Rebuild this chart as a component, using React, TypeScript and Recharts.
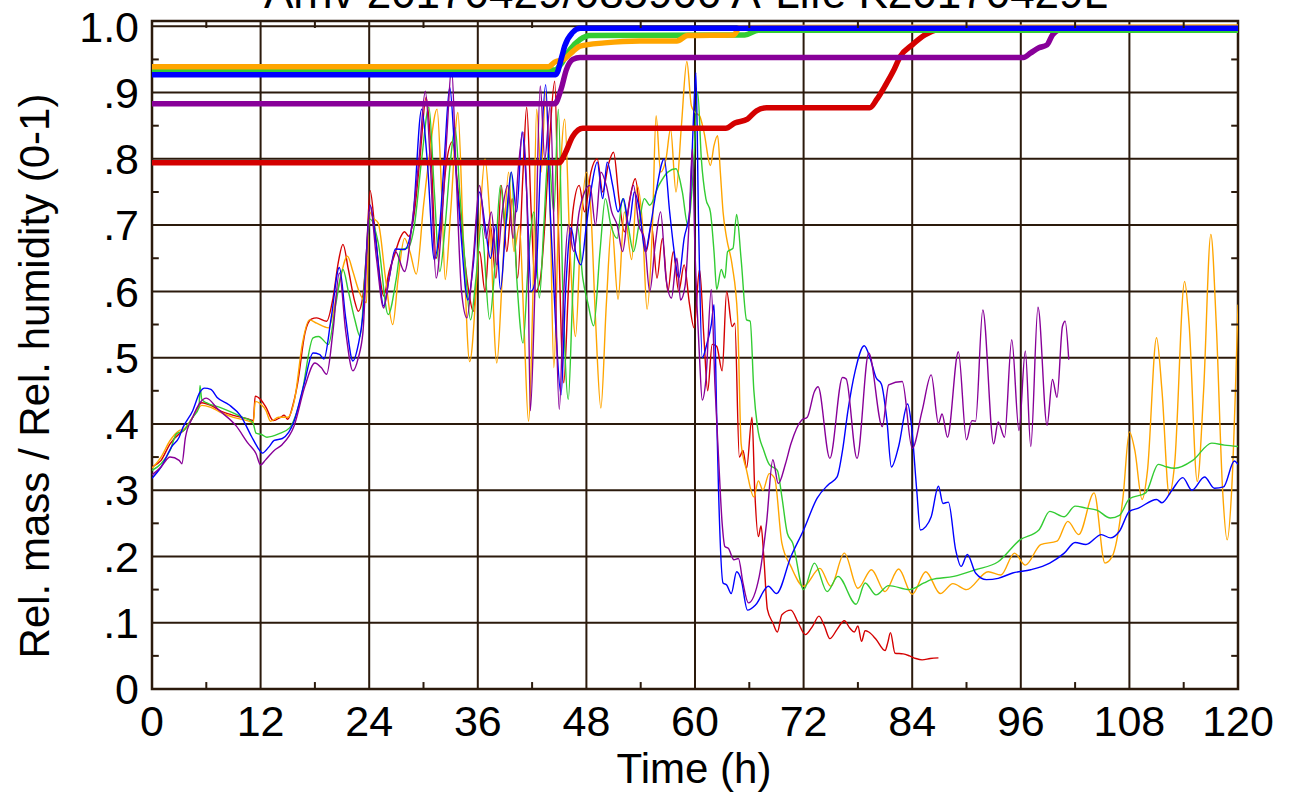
import React from 'react';
import { LineChart, Line, XAxis, YAxis, CartesianGrid, ReferenceLine, ReferenceArea } from 'recharts';

const TITLE = 'Arnv 20170429/085900 A-Life K20170429L';
const X_LABEL = 'Time (h)';
const Y_LABEL = 'Rel. mass / Rel. humidity (0-1)';

const xTicks = [0, 12, 24, 36, 48, 60, 72, 84, 96, 108, 120];
const yTicks = [0, 0.1, 0.2, 0.3, 0.4, 0.5, 0.6, 0.7, 0.8, 0.9, 1.0];
const xMinor = [6, 18, 30, 42, 54, 66, 78, 90, 102, 114];
const yMinor = [0.05, 0.15, 0.25, 0.35, 0.45, 0.55, 0.65, 0.75, 0.85, 0.95];

// Relative mass (thick lines): [time h, value]
const redMass = [[0,0.794],[45,0.794],[45.6,0.807],[46.5,0.834],[47.6,0.846],[63.4,0.846],[64.4,0.854],[65.8,0.86],[66.8,0.8725],[67.9,0.877],[79.3,0.877],[80.1,0.89],[81,0.91],[81.9,0.932],[82.7,0.955],[84,0.972],[85.4,0.987],[86.7,0.995],[88,0.998],[120,0.998]];
const orangeMass = [[0,0.939],[43.8,0.939],[44.5,0.946],[45.5,0.95],[46.5,0.962],[47.3,0.97],[50,0.975],[53.9,0.978],[58,0.978],[59.2,0.986],[64.3,0.987],[64.9,0.998],[120,0.999]];
const greenMass = [[0,0.934],[44.5,0.934],[45.3,0.945],[46.2,0.965],[47.3,0.98],[48.4,0.986],[65.5,0.987],[67,0.994],[120,0.994]];
const blueMass = [[0,0.927],[44.6,0.927],[45.3,0.955],[45.6,0.97],[46.5,0.991],[47.3,0.997],[120,0.997]];
const purpleMass = [[0,0.883],[44.5,0.883],[45.2,0.905],[45.8,0.935],[46.5,0.95],[47.3,0.953],[96.3,0.953],[97.1,0.96],[98,0.9675],[98.9,0.972],[99.5,0.987],[100.2,0.995],[101.3,0.998],[120,0.998]];

// Relative humidity (thin lines): [time h, value]
const redHum = [[0,0.335],[1,0.345],[2,0.37],[3,0.385],[3.5,0.39],[4.5,0.41],[5.5,0.432],[6.5,0.428],[7.5,0.42],[9,0.413],[10.5,0.408],[11.2,0.405],[11.4,0.442],[12,0.437],[12.6,0.425],[13.4,0.405],[14.2,0.41],[14.6,0.413],[15,0.407],[15.6,0.43],[16.1,0.462],[16.9,0.537],[17.6,0.558],[18.2,0.56],[19.3,0.555],[20,0.59],[20.6,0.645],[21.1,0.671],[21.7,0.633],[22.4,0.585],[22.8,0.57],[23.3,0.593],[23.7,0.66],[24.1,0.752],[24.6,0.698],[25.2,0.62],[25.6,0.593],[26.2,0.63],[26.8,0.655],[27.4,0.68],[27.9,0.69],[28.4,0.683],[29,0.72],[29.6,0.8],[30.3,0.893],[30.8,0.82],[31.4,0.65],[31.9,0.7],[32.5,0.79],[33.2,0.826],[33.7,0.77],[34.3,0.68],[35,0.6],[35.5,0.57],[36.2,0.66],[36.8,0.6],[37.4,0.7],[38,0.62],[38.6,0.76],[39.2,0.66],[39.8,0.74],[40.4,0.62],[41,0.78],[41.4,0.878],[41.9,0.72],[42.4,0.6],[42.9,0.618],[43.4,0.7],[43.9,0.82],[44.5,0.917],[44.9,0.7],[45.5,0.462],[46,0.6],[46.5,0.72],[47.2,0.76],[47.8,0.72],[48.5,0.78],[49.2,0.8],[49.8,0.75],[50.4,0.79],[51,0.81],[51.6,0.74],[52.2,0.69],[52.8,0.74],[53.4,0.77],[54,0.71],[54.6,0.66],[55.2,0.7],[55.8,0.62],[56.4,0.68],[57,0.6],[57.6,0.66],[58.2,0.6],[58.8,0.64],[59.4,0.58],[59.9,0.545],[60.5,0.633],[61,0.527],[61.4,0.45],[61.9,0.52],[62.4,0.517],[63,0.48],[63.5,0.6],[64.1,0.547],[64.4,0.552],[64.9,0.35],[65.3,0.36],[65.7,0.333],[66.3,0.41],[66.6,0.3],[67,0.23],[67.3,0.246],[67.6,0.2],[68,0.12],[68.6,0.1],[69.1,0.086],[69.6,0.112],[70.6,0.119],[71.4,0.1],[72.2,0.082],[73,0.095],[73.7,0.11],[74.3,0.095],[74.9,0.076],[75.7,0.09],[76.5,0.103],[77.1,0.092],[77.6,0.086],[78,0.095],[78.4,0.072],[78.8,0.088],[79.2,0.086],[80,0.075],[81,0.058],[81.3,0.07],[81.6,0.085],[82.1,0.054],[83,0.053],[83.7,0.05],[84.4,0.046],[85.1,0.044],[86,0.046],[86.9,0.047]];
const orangeHum = [[0,0.333],[1,0.35],[2,0.375],[3,0.39],[3.5,0.392],[4.5,0.41],[5.5,0.428],[6.5,0.425],[7.5,0.418],[9,0.41],[10.5,0.405],[11.2,0.402],[11.4,0.434],[12,0.43],[12.6,0.42],[13.1,0.404],[14,0.41],[15,0.41],[15.8,0.44],[16.6,0.52],[17.4,0.557],[18.2,0.552],[19.5,0.545],[20.5,0.6],[21.6,0.653],[22.2,0.63],[22.8,0.603],[23.7,0.583],[24,0.72],[24.5,0.71],[25,0.703],[25.8,0.62],[26.6,0.55],[27.2,0.62],[27.9,0.68],[28.5,0.66],[29.2,0.626],[30,0.729],[30.6,0.8],[31.5,0.875],[32,0.75],[32.4,0.618],[33,0.72],[33.8,0.87],[34.4,0.68],[35.1,0.494],[35.8,0.6],[36.2,0.7],[36.8,0.8],[37.3,0.72],[38.1,0.492],[38.7,0.62],[39.4,0.78],[40,0.66],[40.6,0.7],[41.1,0.55],[41.6,0.404],[42.1,0.6],[42.5,0.875],[43,0.78],[43.5,0.9],[44,0.72],[44.4,0.485],[44.9,0.7],[45.6,0.86],[46.2,0.66],[46.8,0.532],[47.4,0.7],[48,0.78],[48.5,0.72],[49,0.56],[49.6,0.424],[50.2,0.58],[50.8,0.7],[51.5,0.588],[52.2,0.72],[53,0.648],[53.6,0.76],[54.2,0.7],[54.7,0.573],[55.3,0.7],[55.7,0.865],[56.2,0.78],[56.8,0.8],[57.3,0.845],[57.9,0.75],[58.5,0.85],[59.1,0.947],[59.6,0.88],[60,0.87],[60.5,0.865],[61,0.84],[61.7,0.79],[62.1,0.82],[62.5,0.835],[62.8,0.78],[63.1,0.72],[63.5,0.68],[64.1,0.64],[64.7,0.562],[65.1,0.37],[65.7,0.33],[66.5,0.29],[67,0.314],[67.5,0.3],[68.2,0.325],[68.8,0.318],[69.6,0.22],[70.6,0.185],[72,0.155],[73.8,0.182],[75,0.155],[76.5,0.205],[78,0.152],[79.5,0.18],[81,0.147],[82.5,0.181],[84,0.143],[85.5,0.177],[87.1,0.144],[88.5,0.159],[90,0.15],[92.4,0.177],[93.8,0.172],[95.3,0.205],[96.5,0.187],[98.2,0.218],[100,0.223],[101.2,0.253],[102.4,0.233],[104.1,0.296],[105.3,0.19],[106.1,0.2],[107.3,0.29],[108,0.388],[108.6,0.36],[109.4,0.286],[110,0.33],[111,0.53],[111.6,0.45],[112.4,0.293],[113,0.34],[114.1,0.615],[114.6,0.55],[115.5,0.313],[116.2,0.45],[117,0.686],[117.6,0.55],[118.3,0.3],[118.8,0.225],[119.3,0.3],[120,0.58]];
const greenHum = [[0,0.33],[1,0.34],[2,0.36],[2.7,0.385],[3.5,0.39],[4.5,0.41],[5.2,0.425],[5.3,0.458],[5.5,0.437],[6,0.432],[7.5,0.425],[8.9,0.417],[10,0.41],[11,0.404],[11.2,0.4],[11.5,0.386],[12.1,0.384],[12.7,0.38],[14,0.385],[15.2,0.394],[16.5,0.442],[17.8,0.53],[18.4,0.532],[19.5,0.52],[20.3,0.58],[21.1,0.633],[21.7,0.6],[22.4,0.558],[23,0.532],[23.6,0.638],[24.1,0.709],[25,0.673],[26.1,0.565],[27,0.62],[27.5,0.663],[28.3,0.666],[29,0.7],[29.8,0.8],[30.6,0.878],[31.2,0.75],[31.8,0.63],[32.4,0.7],[33,0.8],[33.5,0.847],[34,0.75],[34.6,0.64],[35.2,0.557],[35.8,0.62],[36.4,0.7],[37.3,0.558],[37.9,0.64],[38.5,0.76],[39.1,0.7],[39.7,0.78],[40.3,0.62],[41,0.522],[41.6,0.65],[42.2,0.72],[42.8,0.59],[43.3,0.7],[43.8,0.81],[44.4,0.72],[44.9,0.875],[45.4,0.6],[46,0.437],[46.5,0.6],[47,0.7],[47.6,0.62],[48.2,0.58],[48.8,0.548],[49.5,0.66],[50.1,0.74],[50.7,0.7],[51.4,0.68],[52,0.74],[52.6,0.7],[53.2,0.66],[53.8,0.7],[54.4,0.74],[55,0.73],[56,0.76],[57,0.78],[57.9,0.785],[58.6,0.75],[59.2,0.7],[59.8,0.78],[60.3,0.9],[60.7,0.8],[61.2,0.74],[61.7,0.72],[62.1,0.66],[62.4,0.603],[62.9,0.633],[63.3,0.62],[63.6,0.66],[64.2,0.665],[64.6,0.716],[65.1,0.648],[65.7,0.557],[66.1,0.555],[66.5,0.451],[66.9,0.396],[67.6,0.36],[68.2,0.339],[69.1,0.33],[69.6,0.29],[70.2,0.235],[70.8,0.22],[72,0.15],[73.2,0.19],[74.6,0.147],[75.8,0.17],[77.8,0.128],[78.8,0.16],[80,0.142],[81.4,0.156],[83.7,0.15],[85.3,0.16],[86.1,0.165],[88.6,0.17],[91,0.18],[93.5,0.192],[95.9,0.225],[98,0.24],[99.2,0.268],[100.8,0.26],[102,0.276],[103.2,0.273],[104.4,0.27],[105.9,0.258],[106.9,0.262],[108,0.287],[109.8,0.296],[111.2,0.339],[111.9,0.336],[113,0.333],[115,0.345],[117.1,0.371],[118.5,0.368],[120,0.366]];
const blueHum = [[0,0.318],[1,0.335],[2.2,0.366],[3,0.38],[3.4,0.394],[4.5,0.42],[5.3,0.448],[5.8,0.454],[6.5,0.452],[7.2,0.44],[8.5,0.429],[9.8,0.412],[11,0.381],[11.7,0.364],[12.2,0.356],[12.9,0.365],[13.5,0.375],[14.4,0.378],[15.7,0.404],[16.8,0.46],[17.8,0.507],[18.5,0.505],[19,0.498],[19.8,0.56],[20.7,0.636],[21.4,0.56],[22.2,0.495],[22.8,0.52],[23.3,0.563],[24.1,0.73],[24.7,0.68],[25.6,0.578],[26.2,0.62],[26.9,0.664],[27.9,0.663],[28.8,0.706],[29.8,0.875],[30.4,0.8],[31.2,0.648],[31.8,0.7],[32.3,0.8],[32.9,0.908],[33.5,0.8],[34.1,0.693],[34.9,0.587],[35.5,0.64],[36.2,0.75],[36.8,0.7],[37.4,0.65],[38,0.7],[38.5,0.603],[39.1,0.7],[39.7,0.78],[40.3,0.72],[40.9,0.841],[41.4,0.75],[41.9,0.6],[42.4,0.62],[42.9,0.78],[43.5,0.912],[44,0.72],[44.6,0.55],[45.2,0.444],[45.7,0.6],[46.3,0.696],[46.8,0.66],[47.4,0.64],[48,0.7],[48.6,0.76],[49.2,0.795],[49.8,0.74],[50.3,0.795],[50.9,0.76],[51.5,0.72],[52.1,0.74],[52.7,0.7],[53.3,0.75],[53.9,0.72],[54.5,0.66],[55.1,0.7],[55.7,0.75],[56.6,0.8],[57.2,0.72],[57.7,0.66],[58.2,0.62],[58.8,0.68],[59.4,0.72],[59.8,0.85],[60.1,0.93],[60.4,0.7],[60.8,0.5],[61.3,0.52],[61.8,0.55],[62.1,0.58],[62.4,0.411],[62.6,0.3],[63.1,0.16],[63.5,0.157],[64,0.144],[64.6,0.177],[65.1,0.165],[65.8,0.119],[66.7,0.127],[68.1,0.155],[69,0.144],[70.6,0.2],[72,0.24],[73.5,0.288],[74.7,0.308],[75.7,0.32],[76.3,0.36],[76.9,0.42],[77.7,0.48],[78.7,0.518],[79.4,0.497],[80,0.47],[80.6,0.46],[81.2,0.406],[81.7,0.335],[82.5,0.366],[83.5,0.43],[83.9,0.4],[84.5,0.3],[84.9,0.24],[85.5,0.245],[86.1,0.26],[86.9,0.306],[87.4,0.28],[88,0.282],[88.8,0.21],[89.4,0.185],[90.1,0.203],[91,0.175],[92.2,0.165],[93.5,0.167],[95.1,0.175],[97.1,0.18],[99.2,0.19],[100.8,0.205],[102,0.221],[103.2,0.218],[104.9,0.233],[105.9,0.228],[106.9,0.238],[108,0.268],[109,0.273],[111,0.286],[111.6,0.281],[112.7,0.3],[113.9,0.319],[114.9,0.3],[116.3,0.32],[117.4,0.303],[118.4,0.305],[119.6,0.344],[120,0.339]];
const purpleHum = [[0,0.323],[1,0.335],[2,0.35],[3,0.345],[3.3,0.34],[3.7,0.38],[4.5,0.41],[5.3,0.432],[6,0.439],[7.3,0.422],[9.3,0.397],[10.6,0.371],[11.5,0.355],[12,0.338],[12.5,0.345],[13.5,0.36],[14.4,0.369],[15.7,0.397],[16.9,0.457],[18,0.492],[18.7,0.485],[19.3,0.475],[20,0.54],[20.7,0.628],[21.4,0.54],[22.2,0.48],[22.8,0.5],[23.3,0.537],[24.1,0.73],[24.8,0.65],[25.6,0.575],[26.2,0.62],[26.9,0.66],[27.9,0.63],[28.8,0.71],[29.5,0.8],[30.2,0.902],[30.8,0.78],[31.4,0.62],[32,0.7],[32.6,0.84],[33.1,0.938],[33.6,0.78],[34.2,0.6],[34.8,0.56],[35.5,0.65],[36.2,0.76],[36.9,0.68],[37.5,0.72],[38.1,0.64],[38.7,0.72],[39.3,0.76],[39.9,0.68],[40.5,0.79],[41,0.84],[41.5,0.7],[41.8,0.42],[42.3,0.598],[42.9,0.91],[43.4,0.8],[44,0.88],[44.5,0.65],[45,0.422],[45.5,0.6],[46,0.7],[46.6,0.66],[47.2,0.72],[47.8,0.75],[48.4,0.76],[49,0.7],[49.6,0.78],[50.2,0.76],[50.8,0.72],[51.4,0.7],[52,0.66],[52.6,0.72],[53.2,0.76],[53.8,0.7],[54.4,0.68],[55,0.6],[55.6,0.67],[56.2,0.72],[56.8,0.62],[57.4,0.59],[58,0.65],[58.4,0.587],[58.9,0.608],[59.4,0.72],[59.7,0.815],[60,0.66],[60.5,0.5],[60.8,0.436],[61.2,0.466],[61.8,0.603],[62.2,0.46],[62.6,0.35],[63,0.25],[63.3,0.215],[63.7,0.212],[64.3,0.195],[64.8,0.197],[65.3,0.16],[65.9,0.13],[67.1,0.17],[67.9,0.25],[68.6,0.346],[69.2,0.31],[70,0.34],[70.6,0.37],[71.8,0.406],[72.4,0.41],[73.2,0.449],[73.6,0.456],[74.9,0.348],[76.3,0.47],[76.7,0.468],[77.9,0.348],[79.2,0.507],[80.7,0.396],[81.4,0.459],[82.9,0.464],[84,0.363],[85.1,0.42],[86.1,0.474],[86.9,0.401],[87.3,0.415],[87.9,0.38],[89.1,0.509],[90,0.376],[90.6,0.405],[91,0.404],[91.8,0.572],[93,0.37],[93.5,0.403],[94.2,0.38],[95,0.527],[95.8,0.39],[96.5,0.51],[97.1,0.366],[97.9,0.576],[98.9,0.398],[99.5,0.467],[100,0.44],[100.6,0.547],[100.9,0.555],[101.3,0.497]];

const RED = '#d40000';
const ORANGE = '#ffa500';
const GREEN = '#33cc33';
const BLUE = '#0000ff';
const PURPLE = '#880099';
const GRID = '#2b1a0c';
const FONT = '"Liberation Sans", Arial, Helvetica, sans-serif';

const pts = (arr: number[][]) => arr.map(([t, v]) => ({ t, v }));

const thin = [
  { key: 'rh', data: redHum, color: RED },
  { key: 'oh', data: orangeHum, color: ORANGE },
  { key: 'gh', data: greenHum, color: GREEN },
  { key: 'bh', data: blueHum, color: BLUE },
  { key: 'ph', data: purpleHum, color: PURPLE },
];
const thick = [
  { key: 'rm', data: redMass, color: RED },
  { key: 'pm', data: purpleMass, color: PURPLE },
  { key: 'gm', data: greenMass, color: GREEN },
  { key: 'om', data: orangeMass, color: ORANGE },
  { key: 'bm', data: blueMass, color: BLUE },
];

const yFmt = (v: number) => (v === 0 ? '0' : v >= 0.999 ? '1.0' : '.' + Math.round(v * 10));

export default function App() {
  return (
    <div style={{ position: 'absolute', left: 0, top: 0, width: 1293, height: 799, background: '#fff', fontFamily: FONT, overflow: 'hidden' }}>
      <LineChart width={1293} height={799} margin={{ top: 21, right: 55, bottom: 80, left: 0 }}>
        <CartesianGrid stroke={GRID} strokeWidth={2} />
        <XAxis
          dataKey="t"
          type="number"
          domain={[0, 120]}
          ticks={xTicks}
          interval={0}
          allowDataOverflow
          height={30}
          axisLine={false}
          tickLine={false}
          tickSize={0}
          tickMargin={16}
          tick={{ fontSize: 43, fill: '#000', fontFamily: FONT }}
        />
        <YAxis
          type="number"
          domain={[0, 1.008]}
          ticks={yTicks}
          interval={0}
          allowDataOverflow
          width={152}
          axisLine={false}
          tickLine={false}
          tickSize={0}
          tickMargin={13}
          tickFormatter={yFmt}
          tick={{ fontSize: 43, fill: '#000', fontFamily: FONT }}
        />
        {thin.map((s) => (
          <Line key={s.key} data={pts(s.data)} dataKey="v" type="monotone" stroke={s.color} strokeWidth={1.4} dot={false} activeDot={false} isAnimationActive={false} />
        ))}
        {thick.map((s) => (
          <Line key={s.key} data={pts(s.data)} dataKey="v" type="monotone" stroke={s.color} strokeWidth={5.5} dot={false} activeDot={false} isAnimationActive={false} />
        ))}
        {xMinor.map((x) => (
          <ReferenceLine key={'xb' + x} segment={[{ x, y: 0 }, { x, y: 0.0105 }]} stroke={GRID} strokeWidth={2} />
        ))}
        {xMinor.map((x) => (
          <ReferenceLine key={'xt' + x} segment={[{ x, y: 1.008 }, { x, y: 0.9975 }]} stroke={GRID} strokeWidth={2} />
        ))}
        {yMinor.map((y) => (
          <ReferenceLine key={'yl' + y} segment={[{ x: 0, y }, { x: 0.75, y }]} stroke={GRID} strokeWidth={2} />
        ))}
        {yMinor.map((y) => (
          <ReferenceLine key={'yr' + y} segment={[{ x: 119.25, y }, { x: 120, y }]} stroke={GRID} strokeWidth={2} />
        ))}
        <ReferenceArea x1={0} x2={120} y1={0} y2={1.008} fill="none" stroke={GRID} strokeWidth={2.5} />
      </LineChart>
      <svg width={1293} height={799} style={{ position: 'absolute', left: 0, top: 0, pointerEvents: 'none' }}>
        <text x={686} y={8} textAnchor="middle" fontSize={44} fontFamily={FONT} fill="#000">{TITLE}</text>
        <text x={694} y={783} textAnchor="middle" fontSize={42} fontFamily={FONT} fill="#000">{X_LABEL}</text>
        <text transform="translate(49, 376) rotate(-90)" textAnchor="middle" fontSize={42} fontFamily={FONT} fill="#000">{Y_LABEL}</text>
      </svg>
    </div>
  );
}
